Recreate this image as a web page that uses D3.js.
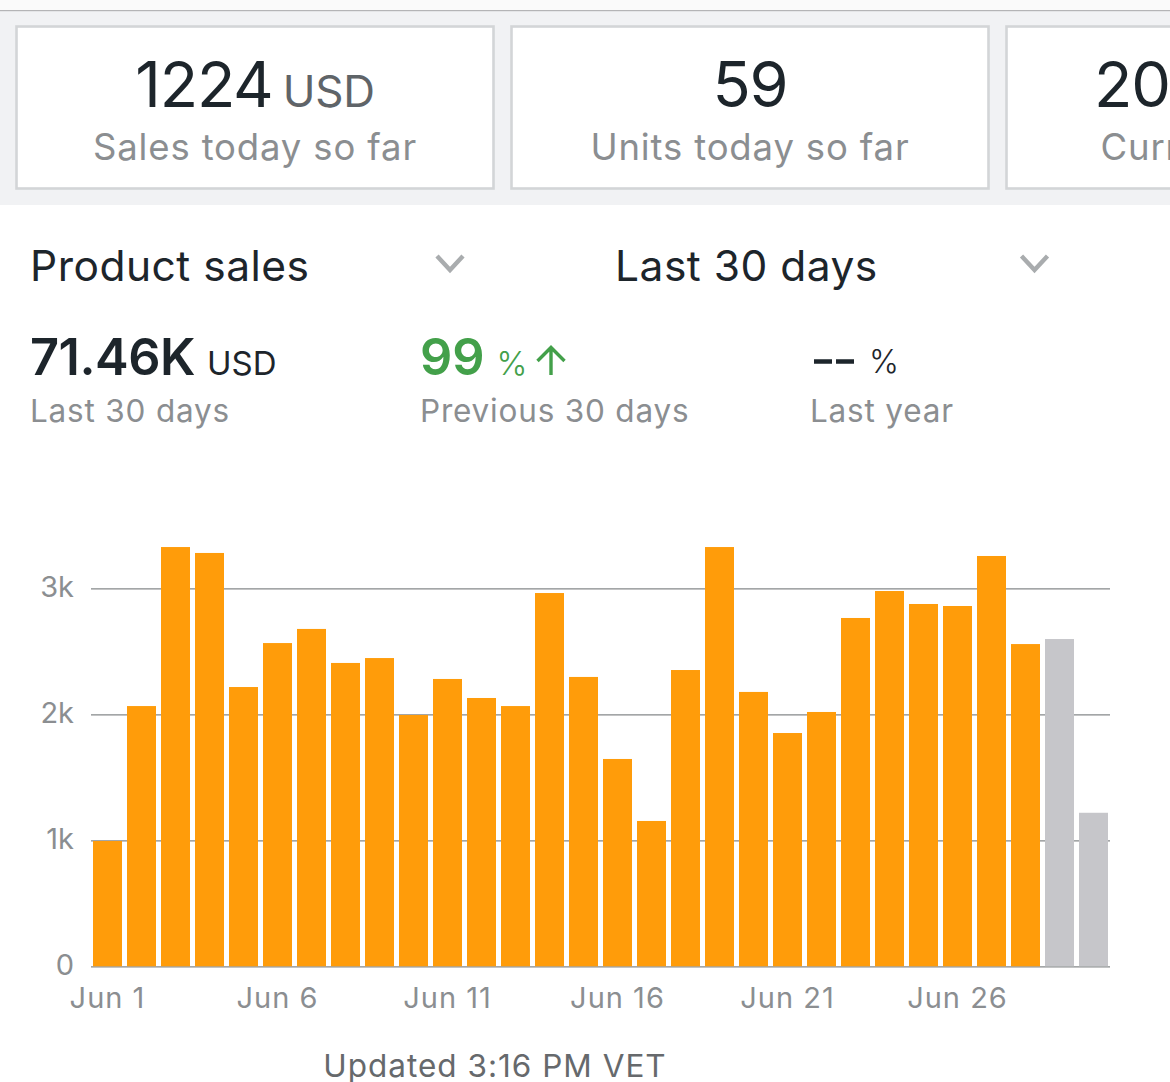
<!DOCTYPE html>
<html><head><meta charset="utf-8">
<script src="https://cdnjs.cloudflare.com/ajax/libs/d3/7.8.5/d3.min.js"></script>
<style>
html,body{margin:0;padding:0;background:#fff;overflow:hidden}
svg{display:block}
text{font-family:Inter,"Noto Sans",sans-serif}
</style></head><body><svg id="c" width="1170" height="1082"></svg>
<script>
const days = d3.range(1, 31);
const values = [1000,2071,3333,3286,2222,2571,2683,2413,2452,2000,2286,2135,2071,2968,2302,1651,1159,2357,3333,2183,1857,2024,2770,2984,2881,2865,3262,2563,2603,1224];
const partialDays = [29, 30];
const xTickDays = [1, 6, 11, 16, 21, 26];
const yTicks = [0, 1000, 2000, 3000];
const cards = [
  {x:16.5, w:477, big:"1224", unit:"USD", label:"Sales today so far"},
  {x:511.5, w:477, big:"59", unit:"", label:"Units today so far"},
  {x:1006.5, w:477, big:"20", unit:"", label:"Current", bigX:1094, labelX:1100.5}
];

const svg = d3.select("#c");
svg.append("rect").attr("width",1170).attr("height",11).attr("fill","#fafafa");
svg.append("rect").attr("y",11).attr("width",1170).attr("height",194).attr("fill","#f1f2f4");
svg.append("rect").attr("y",10).attr("width",1170).attr("height",1.2).attr("fill","#b4b4b6");

cards.forEach(c=>{
  svg.append("rect").attr("x",c.x).attr("y",26.5).attr("width",c.w).attr("height",162).attr("fill","#fff").attr("stroke","#d3d5d7").attr("stroke-width",2.6);
  const cx=c.x+c.w/2;
  const t=svg.append("text").attr("x",c.bigX||cx).attr("y",106.5).attr("text-anchor",c.bigX?"start":"middle").attr("fill","#1d252b").attr("font-size",63).attr("letter-spacing",-1.2);
  t.append("tspan").text(c.big);
  if(c.unit) t.append("tspan").attr("font-size",44).attr("fill","#5f6468").attr("letter-spacing",-0.2).attr("dx",10).text(c.unit);
  svg.append("text").attr("x",c.labelX||cx).attr("y",160).attr("text-anchor",c.labelX?"start":"middle").attr("fill","#8b8e91").attr("font-size",36.5).attr("letter-spacing",0.85).text(c.label);
});

const head=(x,s)=>svg.append("text").attr("x",x).attr("y",281).attr("fill","#1d252b").attr("font-size",42.5).attr("letter-spacing",0.5).text(s);
head(30,"Product sales"); head(615,"Last 30 days");
[450,1034.5].forEach(x=>svg.append("path").attr("d",`M${x-13},${256}L${x},${270}L${x+13},${256}`).attr("fill","none").attr("stroke","#a9acae").attr("stroke-width",4.4));

const lbl=(x,s)=>svg.append("text").attr("x",x).attr("y",422).attr("fill","#8b8e91").attr("font-size",31.5).attr("letter-spacing",0.8).text(s);
lbl(30,"Last 30 days"); lbl(420,"Previous 30 days"); lbl(810,"Last year");

let t=svg.append("text").attr("x",30).attr("y",375).attr("fill","#1d252b").attr("font-size",50.5).attr("font-weight",600).attr("letter-spacing",-0.5);
t.append("tspan").text("71.46K");
t.append("tspan").attr("dx",12).attr("font-size",33).attr("font-weight",400).attr("letter-spacing",0).text("USD");
t=svg.append("text").attr("x",420).attr("y",375).attr("fill","#43a04a").attr("font-size",50.5).attr("font-weight",600);
t.append("tspan").text("99");
t.append("tspan").attr("dx",12).attr("font-size",33).attr("font-weight",300).text("%");
svg.append("path").attr("d","M551,375V348M537.5,361L551,347.5L564.5,361").attr("fill","none").attr("stroke","#43a04a").attr("stroke-width",3.4);
svg.append("path").attr("d","M814,361.5H832M836,361.5H854").attr("stroke","#1d252b").attr("stroke-width",4.6);
svg.append("text").attr("x",869).attr("y",373).attr("fill","#1d252b").attr("font-size",32).attr("font-weight",300).text("%");

const x=d3.scaleBand().domain(days).range([90.5,1110.5]).paddingInner(5/34).paddingOuter(2.5/34);
const y=d3.scaleLinear().domain([0,3000]).range([967,589]);

const yAxis=svg.append("g").attr("transform","translate(91,-0.6)")
  .call(d3.axisLeft(y).tickValues(yTicks).tickSize(-1019).tickPadding(16).tickFormat(d=>d?(d/1000)+"k":"0"));
yAxis.select(".domain").remove();
yAxis.selectAll("line").attr("stroke","#85888a").attr("stroke-width",1.4);
yAxis.selectAll("text").attr("fill","#8b8e91").attr("font-size",29).attr("dy","0.28em").attr("dx",-1).style("font-family","Inter,sans-serif");

svg.append("g").selectAll("rect").data(days).join("rect")
  .attr("x",d=>x(d)).attr("width",x.bandwidth())
  .attr("y",d=>y(values[d-1])).attr("height",d=>y(0)-y(values[d-1])-0.7)
  .attr("fill",d=>partialDays.includes(d)?"#c6c6ca":"#ff9c0a");

const xAxis=svg.append("g").attr("transform","translate(0,969)")
  .call(d3.axisBottom(x).tickValues(xTickDays).tickSize(0).tickPadding(18).tickFormat(d=>"Jun "+d));
xAxis.select(".domain").remove();
xAxis.selectAll("text").attr("fill","#8b8e91").attr("font-size",29).attr("letter-spacing",1).style("font-family","Inter,sans-serif");

svg.append("text").attr("x",495).attr("y",1077).attr("text-anchor","middle").attr("fill","#66696c").attr("font-size",31.5).attr("letter-spacing",1).text("Updated 3:16 PM VET");
</script></body></html>
